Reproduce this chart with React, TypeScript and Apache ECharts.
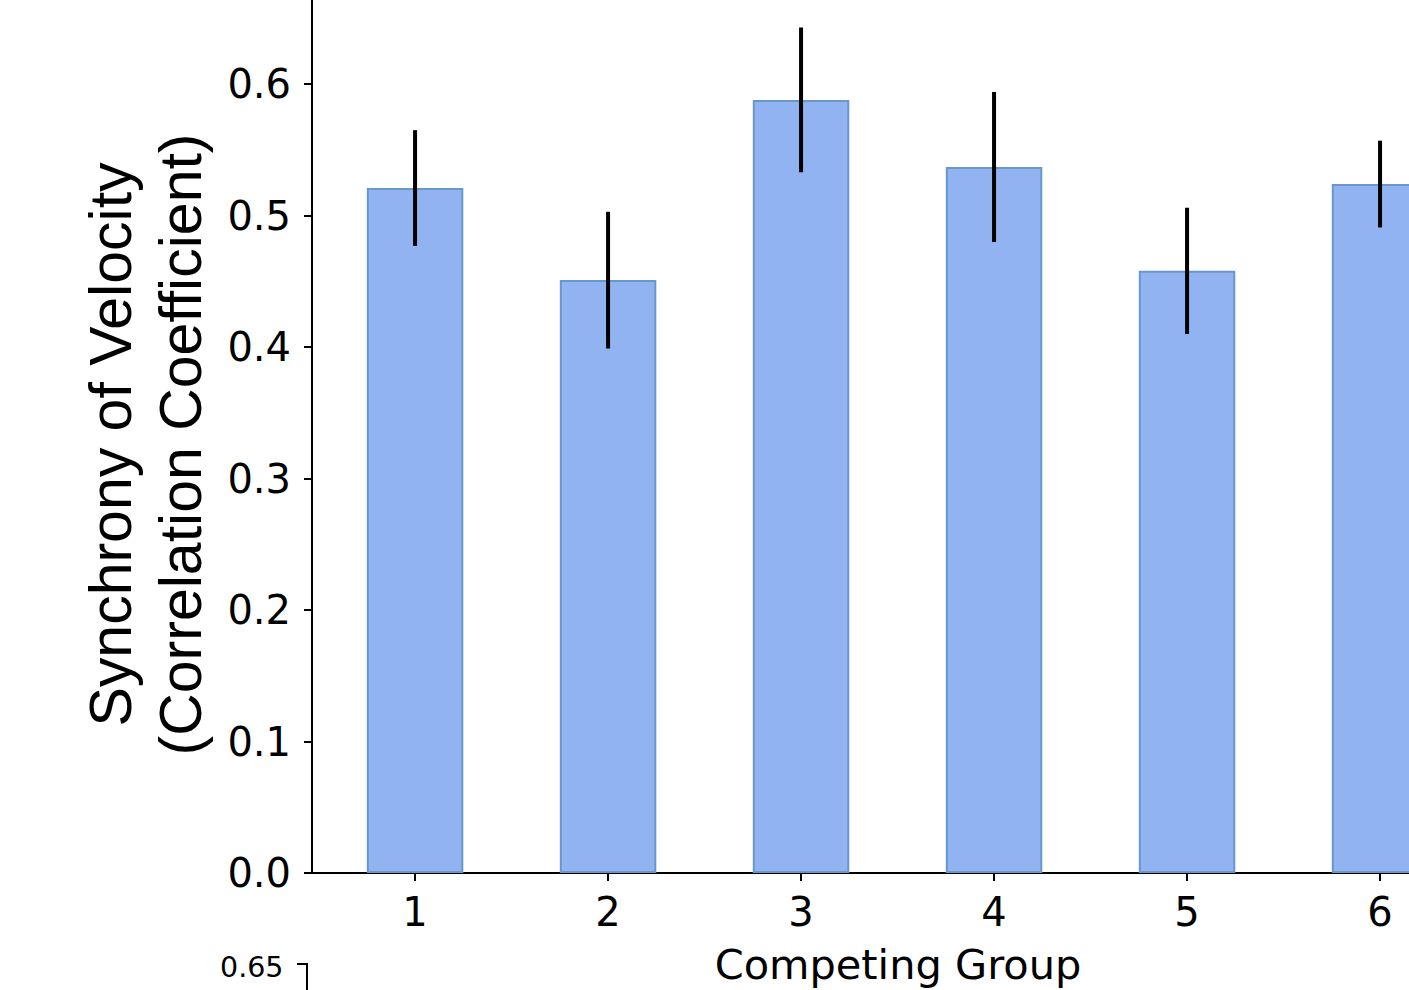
import React, { useEffect, useRef } from "react";
import * as echarts from "echarts";

const groups = [1, 2, 3, 4, 5, 6];
const means = [0.521, 0.451, 0.588, 0.537, 0.458, 0.524];
const errors = [0.044, 0.052, 0.055, 0.057, 0.048, 0.033];
const yTicks = [0, 0.1, 0.2, 0.3, 0.4, 0.5, 0.6];
const xTicks = [1, 2, 3, 4, 5, 6];

export default function App() {
  const ref = useRef<HTMLDivElement>(null);
  useEffect(() => {
    if (!ref.current) return;
    const chart = echarts.init(ref.current, null, { renderer: "svg" });
    const barData = groups.map((g, i) => [g, means[i]]);
    const errData = groups.map((g, i) => [g, means[i] - errors[i], means[i] + errors[i]]);
    chart.setOption({
      animation: false,
      backgroundColor: "#ffffff",
      grid: { left: 312, top: 0, bottom: 117, right: 0 },
      xAxis: {
        type: "value",
        min: 0.466,
        max: 6.15,
        name: "Competing Group",
        nameLocation: "middle",
        nameGap: 70,
        nameTextStyle: {
          fontFamily: "DejaVu Sans",
          fontSize: 41.5,
          color: "#000",
          padding: [0, 0, 0, 75],
        },
        axisLine: { show: true, onZero: false, lineStyle: { color: "#000", width: 2 } },
        axisTick: { show: true, length: 8, customValues: xTicks, lineStyle: { color: "#000", width: 2 } },
        axisLabel: {
          customValues: xTicks,
          fontFamily: "DejaVu Sans",
          fontSize: 40,
          color: "#000",
          margin: 19,
        },
        splitLine: { show: false },
      },
      yAxis: {
        type: "value",
        min: 0,
        max: 0.664,
        name: "Synchrony of Velocity\n(Correlation Coefficient)",
        nameLocation: "middle",
        nameRotate: 90,
        nameGap: 94,
        nameTextStyle: {
          fontFamily: "Liberation Sans",
          fontSize: 59,
          lineHeight: 70,
          color: "#000",
          align: "center",
          padding: [0, 16, 0, 0],
        },
        axisLine: { show: true, lineStyle: { color: "#000", width: 2 } },
        axisTick: { show: true, length: 8, customValues: yTicks, lineStyle: { color: "#000", width: 2 } },
        axisLabel: {
          customValues: yTicks,
          formatter: (v: number) => v.toFixed(1),
          fontFamily: "DejaVu Sans",
          fontSize: 40,
          color: "#000",
          margin: 21,
        },
        splitLine: { show: false },
      },
      series: [
        {
          type: "bar",
          data: barData,
          barWidth: 96.5,
          clip: true,
          itemStyle: { color: "#92b3f1", borderColor: "#6898c9", borderWidth: 2 },
        },
        {
          type: "custom",
          data: errData,
          encode: { x: 0, y: [1, 2] },
          renderItem: (params: any, api: any) => {
            const x = api.value(0);
            const lo = api.coord([x, api.value(1)]);
            const hi = api.coord([x, api.value(2)]);
            return {
              type: "line",
              shape: { x1: lo[0], y1: lo[1], x2: hi[0], y2: hi[1] },
              style: { stroke: "#000", lineWidth: 4 },
            };
          },
          z: 5,
        },
      ],
      graphic: [
        {
          type: "text",
          left: 220,
          top: 953,
          style: { text: "0.65", fontFamily: "DejaVu Sans", fontSize: 28.5, fill: "#000" },
        },
        {
          type: "line",
          shape: { x1: 297, y1: 964, x2: 307, y2: 964 },
          style: { stroke: "#000", lineWidth: 2 },
        },
        {
          type: "line",
          shape: { x1: 307, y1: 963, x2: 307, y2: 992 },
          style: { stroke: "#000", lineWidth: 2 },
        },
      ],
    });
    return () => chart.dispose();
  }, []);
  return (
    <div
      ref={ref}
      style={{ position: "absolute", left: 0, top: 0, width: 1409, height: 990 }}
    />
  );
}
